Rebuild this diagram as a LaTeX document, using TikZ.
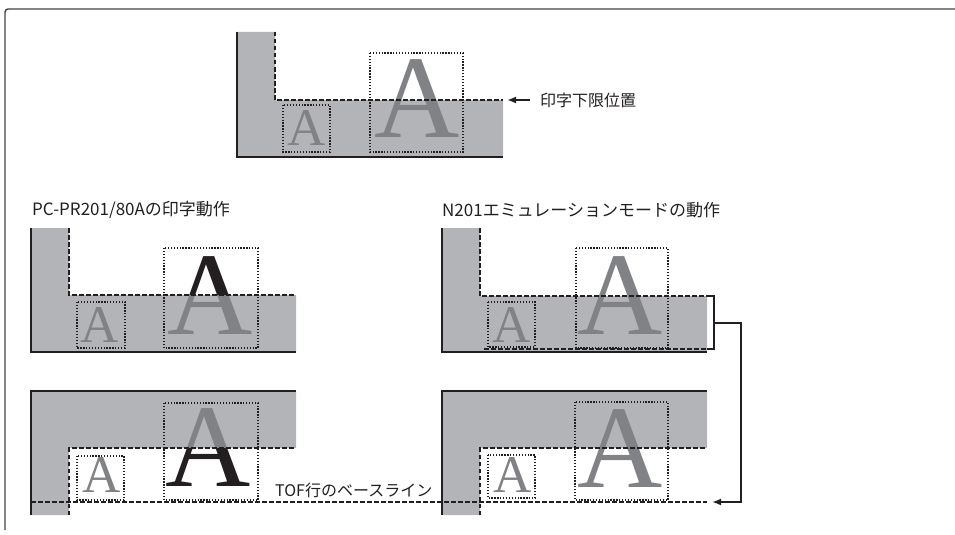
\documentclass[tikz,border=0pt]{standalone}
\usepackage{fontspec}
\setmainfont{Liberation Serif}
\newfontfamily\jp{Noto Sans CJK JP}
\usetikzlibrary{arrows.meta}
\definecolor{band}{HTML}{B3B4B7}
\definecolor{glyph}{HTML}{808285}
\definecolor{ink}{HTML}{231F20}
\tikzset{
  bandfill/.style={fill=band, draw=none},
  edgeline/.style={draw=ink, line width=2pt},
  limit/.style={draw=ink, line width=1.4pt, dash pattern=on 4.5pt off 2.5pt},
  cell/.style={draw=ink, line width=1.1pt, dash pattern=on 1.3pt off 1.6pt},
  bigA/.style={inner sep=0, anchor=base, font=\fontsize{118}{118}\selectfont},
  smallA/.style={inner sep=0, anchor=base, font=\fontsize{53}{53}\selectfont},
  jlabel/.style={inner sep=0, anchor=west, font=\jp\fontsize{16}{16}\selectfont, text=ink},
  heavy/.style={draw=ink, line width=2.4pt},
  pointer/.style={draw=ink, line width=2.4pt, -{Latex[length=9pt,width=7pt]}},
}
\begin{document}
\begin{tikzpicture}[x=1pt,y=-1pt]
\useasboundingbox (0,0) rectangle (955,535);
% outer frame
\draw[draw=ink!85, line width=1.4pt, rounded corners=3pt] (5,530) -- (5,9) -- (955,9);

% ---------- top diagram ----------
\fill[bandfill] (237,32) -- (275,32) -- (275,100) -- (503,100) -- (503,157) -- (237,157) -- cycle;
\draw[edgeline] (237,32) -- (237,157) -- (503,157);
\node[smallA, text=glyph] (a0s) at (307,145) {A};
\node[bigA, text=glyph] (a0b) at (417,137) {A};
\draw[cell] (283,105) rectangle (330,152);
\draw[cell] (370,53) rectangle (463,152);
\draw[limit] (275,32) -- (275,100) -- (503,100);
\node[jlabel] (lim) at (540,100) {印字下限位置};
\coordinate (limtip) at (507,100);
\draw[pointer, line width=2pt] ([xshift=-10pt]lim.west) -- (limtip);

% ---------- titles ----------
\node[jlabel, font=\jp\fontsize{17}{17}\selectfont] (t1) at (32,210) {PC-PR201/80Aの印字動作};
\node[jlabel, font=\jp\fontsize{17}{17}\selectfont] (t2) at (442,210) {N201エミュレーションモードの動作};

% ---------- left top ----------
\fill[bandfill] (31,228) -- (69,228) -- (69,295) -- (296,295) -- (296,352) -- (31,352) -- cycle;
\draw[edgeline] (31,228) -- (31,352) -- (296,352);
\node[smallA, text=glyph] (a1s) at (100,342) {A};
\begin{scope}
  \clip (150,235) rectangle (270,295);
  \node[bigA, text=ink] (a1bk) at (210,334) {A};
\end{scope}
\begin{scope}
  \clip (150,295) rectangle (270,350);
  \node[bigA, text=glyph] (a1bg) at (210,334) {A};
\end{scope}
\draw[cell] (77,302) rectangle (125,348);
\draw[cell] (164,248) rectangle (258,348);
\draw[limit] (69,228) -- (69,295) -- (296,295);

% ---------- right top ----------
\fill[bandfill] (442,228) -- (480,228) -- (480,296) -- (707,296) -- (707,352) -- (442,352) -- cycle;
\draw[edgeline] (442,228) -- (442,352) -- (707,352);
\node[smallA, text=glyph] (a2s) at (512,342) {A};
\node[bigA, text=glyph] (a2b) at (620,334) {A};
\draw[cell] (488,302) rectangle (535,347);
\draw[cell] (576,248) rectangle (668,348);
\draw[limit] (480,228) -- (480,296) -- (707,296);
\draw[limit] (484,349) -- (707,349);

% ---------- left bottom ----------
\fill[bandfill] (31,391) -- (296,391) -- (296,448) -- (69,448) -- (69,515) -- (31,515) -- cycle;
\draw[edgeline] (31,515) -- (31,391) -- (296,391);
\node[smallA, text=glyph] (a3s) at (102,492) {A};
\begin{scope}
  \clip (150,398) rectangle (270,448);
  \node[bigA, text=glyph] (a3bg) at (208,486) {A};
\end{scope}
\begin{scope}
  \clip (150,448) rectangle (270,500);
  \node[bigA, text=ink] (a3bk) at (208,486) {A};
\end{scope}
\draw[cell] (77,456) rectangle (124,500);
\draw[cell] (164,403) rectangle (258,500);
\draw[limit] (69,515) -- (69,448) -- (296,448);

% ---------- right bottom ----------
\fill[bandfill] (442,391) -- (707,391) -- (707,448) -- (480,448) -- (480,515) -- (442,515) -- cycle;
\draw[edgeline] (442,515) -- (442,391) -- (707,391);
\node[smallA, text=glyph] (a4s) at (513,492) {A};
\node[bigA, text=glyph] (a4b) at (620,487) {A};
\draw[cell] (488,455) rectangle (535,498);
\draw[cell] (575,402) rectangle (668,500);
\draw[limit] (480,515) -- (480,448) -- (707,448);

% ---------- baseline ----------
\coordinate (bl0) at (31,502);
\coordinate (bl1) at (707,502);
\draw[limit] (bl0) -- (bl1);
\node[jlabel] (tof) at (275,490) {TOF行のベースライン};

% ---------- bracket and arrow ----------
\coordinate (brA) at (707,296);
\coordinate (brB) at (707,349);
\coordinate (brM) at (714,323);
\coordinate (tip) at (712,502);
\draw[heavy] (brA) -- (714,296) -- (714,349) -- (brB);
\draw[pointer] (brM) -- (741,323) -- (741,502) -- (tip);
\end{tikzpicture}
\end{document}
